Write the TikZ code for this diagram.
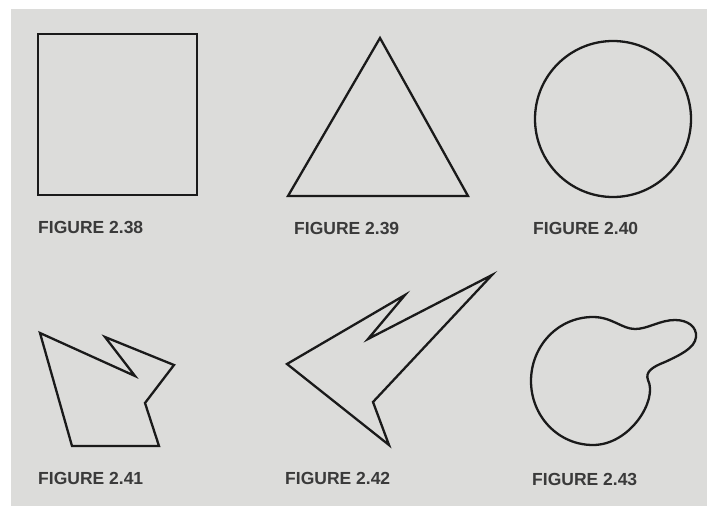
\documentclass[tikz,border=0pt]{standalone}
\usepackage{fontspec}
\newfontfamily\capfont{Liberation Sans}
\definecolor{paper}{HTML}{DCDCDA}
\definecolor{ink}{HTML}{1A1A1A}
\definecolor{capink}{HTML}{3A3A3A}
\begin{document}
\begin{tikzpicture}[x=1pt, y=-1pt,
  outline/.style={draw=ink, line width=2.3pt, line join=miter},
  figcap/.style={anchor=west, inner sep=0pt, text=capink,
    font=\capfont\bfseries\fontsize{17.5}{20}\selectfont}]
  \useasboundingbox (0,0) rectangle (707,506);
  \fill[white] (0,0) rectangle (707,506);
  \fill[paper] (11,9) rectangle (707,506);
  \draw[outline] (38,34) rectangle (197,195);
  \node[figcap] (cap38) at (38,227) {FIGURE 2.38};
  \draw[outline] (380,38) -- (288,196) -- (468,196) -- cycle;
  \node[figcap] (cap39) at (294,228) {FIGURE 2.39};
  \draw[outline] (613,119) circle (78);
  \node[figcap] (cap40) at (533,228) {FIGURE 2.40};
  \draw[outline] (40,333) -- (135,376) -- (105,337) -- (174,365) -- (145,403)
    -- (159,446) -- (72,446) -- cycle;
  \node[figcap] (cap41) at (38,478) {FIGURE 2.41};
  \draw[outline] (287,364) -- (405,295) -- (368,339) -- (492,275) -- (373,402)
    -- (389,445) -- cycle;
  \node[figcap] (cap42) at (285,478) {FIGURE 2.42};
  \draw[outline] (648,380) .. controls (658,400) and (630,445) .. (593,445)
    .. controls (558,445) and (531,416) .. (531,381)
    .. controls (531,346) and (558,317) .. (593,317)
    .. controls (612,317) and (622,329) .. (635,329)
    .. controls (648,329) and (660,320) .. (675,320)
    .. controls (688,320) and (697,327) .. (696,337)
    .. controls (695,348) and (680,355) .. (665,362)
    .. controls (652,367) and (645,372) .. cycle;
  \node[figcap] (cap43) at (532,479) {FIGURE 2.43};
\end{tikzpicture}
\end{document}
